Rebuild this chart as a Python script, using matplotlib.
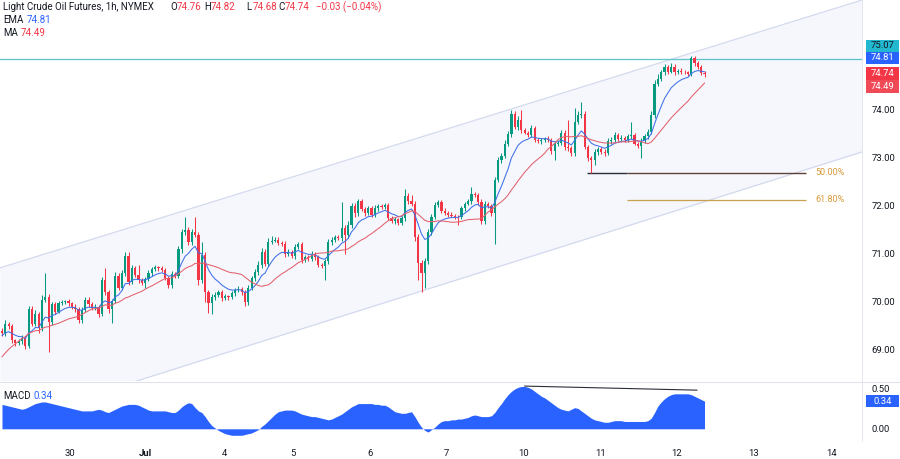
import numpy as np
import pandas as pd
import matplotlib
matplotlib.use("Agg")
import matplotlib.pyplot as plt
from matplotlib.patches import Rectangle

# --- data (1h candles, Light Crude Oil Futures) ---
first_open = 69.40
closes = [
    69.35, 69.55, 69.50, 69.20, 69.15, 69.18, 69.25, 69.08, 69.85, 69.55,
    69.75, 69.45, 70.05, 70.10, 69.58, 69.95, 69.80, 69.98, 70.00, 70.02,
    69.97, 69.90, 69.85, 69.62, 69.83, 70.05, 69.95, 69.88, 69.90, 69.75,
    70.45, 70.20, 69.85, 70.03, 70.55, 70.30, 70.60, 70.95, 70.42, 70.70,
    70.57, 70.45, 70.40, 70.48, 70.60, 70.68, 70.72, 70.70, 70.66, 70.50,
    70.35, 70.58, 70.55, 71.10, 71.45, 71.50, 71.25, 71.45, 71.40, 70.45,
    70.98, 70.20, 69.98, 70.10, 70.15, 70.20, 70.08, 70.12, 70.10, 70.18,
    70.25, 70.28, 70.20, 70.00, 70.30, 70.50, 70.62, 70.78, 71.04, 70.80,
    71.25, 71.28, 71.30, 71.23, 71.20, 71.00, 71.05, 70.95, 71.15, 71.20,
    70.88, 70.93, 70.90, 71.00, 70.93, 70.78, 70.75, 70.85, 71.25, 71.30,
    71.35, 71.33, 71.55, 71.40, 71.60, 72.00, 71.85, 72.10, 71.93, 71.85,
    71.95, 71.82, 71.95, 72.00, 71.98, 72.02, 71.75, 71.68, 71.72, 71.65,
    71.75, 72.20, 72.10, 72.05, 71.35, 70.82, 70.60, 70.85, 71.45, 71.78,
    72.02, 72.08, 71.90, 71.85, 71.82, 71.80, 71.78, 71.76, 71.95, 72.05,
    72.10, 72.25, 72.22, 72.08, 71.68, 72.05, 72.00, 71.85, 72.55, 72.95,
    73.05, 73.30, 73.50, 73.92, 73.65, 73.80, 73.58, 73.53, 73.48, 73.62,
    73.38, 73.35, 73.37, 73.40, 73.38, 73.15, 73.30, 73.32, 73.52, 73.22,
    73.20, 73.10, 73.75, 73.90, 73.92, 73.23, 73.00, 72.95, 73.12, 73.18,
    73.13, 73.10, 73.35, 73.38, 73.48, 73.40, 73.42, 73.38, 73.45, 73.48,
    73.30, 73.25, 73.35, 73.45, 73.55, 73.90, 74.55, 74.65, 74.78, 74.90,
    74.80, 74.90, 74.78, 74.82, 74.80, 74.78, 74.75, 75.08, 74.97, 74.90,
    74.76, 74.74,
]
up_wick = [
    0.05, 0.08, 0.04, 0.05, 0.03, 0.04, 0.06, 0.05, 0.07, 0.06,
    0.08, 0.05, 0.10, 0.50, 0.06, 0.05, 0.04, 0.05, 0.04, 0.03,
    0.04, 0.03, 0.05, 0.04, 0.06, 0.05, 0.06, 0.04, 0.05, 0.04,
    0.06, 0.25, 0.05, 0.04, 0.08, 0.06, 0.07, 0.10, 0.10, 0.06,
    0.05, 0.20, 0.04, 0.05, 0.06, 0.04, 0.05, 0.03, 0.04, 0.05,
    0.04, 0.06, 0.05, 0.06, 0.08, 0.27, 0.06, 0.07, 0.33, 0.05,
    0.27, 0.06, 0.05, 0.06, 0.05, 0.04, 0.05, 0.04, 0.03, 0.05,
    0.04, 0.05, 0.04, 0.05, 0.06, 0.05, 0.06, 0.07, 0.08, 0.07,
    0.08, 0.10, 0.06, 0.05, 0.04, 0.06, 0.05, 0.04, 0.06, 0.05,
    0.05, 0.04, 0.05, 0.06, 0.04, 0.05, 0.04, 0.05, 0.07, 0.05,
    0.04, 0.05, 0.53, 0.06, 0.08, 0.07, 0.06, 0.05, 0.05, 0.04,
    0.05, 0.04, 0.06, 0.05, 0.04, 0.05, 0.04, 0.05, 0.04, 0.03,
    0.05, 0.15, 0.06, 0.12, 0.05, 0.06, 0.05, 0.06, 0.07, 0.06,
    0.06, 0.05, 0.04, 0.05, 0.04, 0.05, 0.04, 0.03, 0.05, 0.04,
    0.05, 0.15, 0.05, 0.04, 0.06, 0.05, 0.04, 0.05, 0.06, 0.07,
    0.06, 0.07, 0.06, 0.08, 0.06, 0.07, 0.20, 0.05, 0.04, 0.06,
    0.05, 0.04, 0.05, 0.04, 0.05, 0.04, 0.06, 0.05, 0.06, 0.07,
    0.58, 0.05, 0.30, 0.08, 0.25, 0.06, 0.05, 0.04, 0.06, 0.05,
    0.04, 0.05, 0.06, 0.05, 0.06, 0.04, 0.05, 0.04, 0.05, 0.27,
    0.05, 0.04, 0.06, 0.05, 0.06, 0.07, 0.08, 0.10, 0.06, 0.05,
    0.04, 0.08, 0.05, 0.04, 0.05, 0.04, 0.03, 0.04, 0.05, 0.04,
    0.04, 0.06,
]
dn_wick = [
    0.06, 0.05, 0.06, 0.05, 0.06, 0.04, 0.05, 0.06, 0.03, 0.05,
    0.05, 0.10, 0.05, 0.06, 0.63, 0.05, 0.06, 0.04, 0.05, 0.04,
    0.05, 0.04, 0.05, 0.06, 0.05, 0.04, 0.05, 0.04, 0.05, 0.06,
    0.05, 0.06, 0.07, 0.29, 0.05, 0.06, 0.05, 0.06, 0.07, 0.05,
    0.04, 0.05, 0.05, 0.10, 0.04, 0.05, 0.04, 0.05, 0.04, 0.05,
    0.06, 0.05, 0.06, 0.05, 0.07, 0.06, 0.07, 0.06, 0.05, 0.10,
    0.06, 0.20, 0.21, 0.23, 0.05, 0.04, 0.05, 0.04, 0.05, 0.04,
    0.05, 0.04, 0.05, 0.08, 0.06, 0.05, 0.06, 0.05, 0.07, 0.06,
    0.06, 0.05, 0.04, 0.05, 0.04, 0.06, 0.05, 0.04, 0.05, 0.04,
    0.06, 0.05, 0.04, 0.05, 0.06, 0.05, 0.04, 0.29, 0.05, 0.06,
    0.05, 0.04, 0.06, 0.40, 0.07, 0.06, 0.07, 0.05, 0.04, 0.05,
    0.04, 0.05, 0.04, 0.05, 0.04, 0.05, 0.05, 0.04, 0.05, 0.04,
    0.05, 0.06, 0.05, 0.06, 0.07, 0.37, 0.40, 0.30, 0.06, 0.05,
    0.05, 0.04, 0.05, 0.04, 0.05, 0.04, 0.05, 0.16, 0.04, 0.05,
    0.04, 0.05, 0.04, 0.05, 0.06, 0.05, 0.04, 0.05, 0.65, 0.06,
    0.05, 0.06, 0.05, 0.06, 0.05, 0.06, 0.05, 0.04, 0.05, 0.04,
    0.05, 0.04, 0.05, 0.04, 0.05, 0.07, 0.20, 0.05, 0.06, 0.05,
    0.06, 0.05, 0.06, 0.05, 0.06, 0.05, 0.06, 0.26, 0.10, 0.05,
    0.04, 0.05, 0.04, 0.05, 0.04, 0.05, 0.04, 0.05, 0.04, 0.05,
    0.04, 0.05, 0.25, 0.04, 0.05, 0.06, 0.07, 0.06, 0.05, 0.06,
    0.05, 0.04, 0.05, 0.04, 0.05, 0.04, 0.05, 0.04, 0.05, 0.04,
    0.04, 0.06,
]
# MACD line, one value per candle
macd = [
    0.30, 0.29, 0.28, 0.27, 0.26, 0.25, 0.24, 0.25, 0.27, 0.29,
    0.31, 0.32, 0.33, 0.33, 0.32, 0.31, 0.30, 0.29, 0.28, 0.27,
    0.26, 0.25, 0.24, 0.23, 0.22, 0.22, 0.22, 0.22, 0.23, 0.24,
    0.23, 0.21, 0.20, 0.22, 0.24, 0.26, 0.28, 0.29, 0.30, 0.30,
    0.30, 0.29, 0.27, 0.25, 0.23, 0.22, 0.22, 0.22, 0.22, 0.22,
    0.21, 0.20, 0.20, 0.23, 0.27, 0.30, 0.32, 0.31, 0.26, 0.22,
    0.20, 0.15, 0.09, 0.04, 0.01, -0.02, -0.04, -0.06, -0.07, -0.08,
    -0.08, -0.08, -0.08, -0.07, -0.06, -0.05, -0.03, -0.01, 0.03, 0.06,
    0.10, 0.14, 0.18, 0.21, 0.22, 0.23, 0.23, 0.23, 0.22, 0.20,
    0.18, 0.17, 0.16, 0.15, 0.15, 0.14, 0.13, 0.12, 0.11, 0.12,
    0.14, 0.16, 0.18, 0.21, 0.24, 0.27, 0.29, 0.31, 0.31, 0.31,
    0.31, 0.31, 0.30, 0.30, 0.29, 0.29, 0.27, 0.24, 0.21, 0.20,
    0.19, 0.19, 0.20, 0.21, 0.15, 0.08, 0.02, -0.02, -0.04, -0.01,
    0.02, 0.06, 0.09, 0.10, 0.10, 0.11, 0.11, 0.12, 0.12, 0.13,
    0.14, 0.16, 0.17, 0.16, 0.15, 0.15, 0.15, 0.16, 0.20, 0.26,
    0.31, 0.37, 0.42, 0.46, 0.49, 0.51, 0.52, 0.52, 0.51, 0.49,
    0.46, 0.43, 0.40, 0.38, 0.35, 0.32, 0.29, 0.26, 0.24, 0.23,
    0.22, 0.24, 0.26, 0.25, 0.22, 0.19, 0.16, 0.13, 0.11, 0.10,
    0.09, 0.08, 0.08, 0.09, 0.10, 0.10, 0.10, 0.09, 0.09, 0.09,
    0.09, 0.09, 0.09, 0.09, 0.10, 0.13, 0.20, 0.28, 0.33, 0.37,
    0.40, 0.42, 0.43, 0.43, 0.43, 0.43, 0.43, 0.42, 0.40, 0.38,
    0.36, 0.34,
]
# candles before the visible window (needed to warm up EMA / MA)
warmup_closes = [
    67.70, 67.75, 67.80, 67.78, 67.85, 67.90, 67.88, 67.95, 68.00, 67.95,
    68.05, 68.10, 68.15, 68.30, 68.60, 68.90, 69.20, 69.35, 69.30, 69.40,
    69.45, 69.35, 69.40, 69.50, 69.45, 69.40,
]

# values printed in the chart legend
last_ohlc = {"O": 74.76, "H": 74.82, "L": 74.68, "C": 74.74}
change = "\u22120.03 (\u22120.04%)"
ema_last = 74.81
ma_last = 74.49
macd_last = 0.34

day_ticks = [20.4, 42.9, 66.7, 87.4, 110.5, 133.6, 156.5, 179.9, 202.7, 225.8, 249.3]
day_labels = ["30", "Jul", "4", "5", "6", "7", "10", "11", "12", "13", "14"]
price_ticks = [69.0, 70.0, 71.0, 72.0, 73.0, 74.0]
macd_ticks = [0.0, 0.5]

resistance = 75.07
fib_levels = [72.69, 72.125]
fib_labels = ["50.00%", "61.80%"]
channel_upper = [(-0.6, 70.71), (258.3, 76.29)]
channel_lower = [(41.4, 68.375), (258.3, 73.125)]
macd_div = [(157.0, 0.525), (208.7, 0.475)]

GREEN = "#089981"
RED = "#f23645"
BLUE = "#2962ff"
TXT = "#131722"
plt.rcParams["font.family"] = ["Roboto", "DejaVu Sans"]

# --- derived series ---
n = len(closes)
idx = np.arange(n)
c = np.array(closes)
o = np.r_[first_open, c[:-1]]
hi = np.maximum(o, c) + np.array(up_wick)
lo = np.minimum(o, c) - np.array(dn_wick)
cols = np.where(c >= o, GREEN, RED)

full = pd.Series(warmup_closes + closes)
ema = full.ewm(span=9, adjust=False).mean().values[-n:]
ma = full.rolling(20).mean().values[-n:]

W, H = 900, 459
fig = plt.figure(figsize=(9, 4.59), dpi=100)
ax = fig.add_axes([0, 1 - 381 / H, 862 / W, 381 / H])
axm = fig.add_axes([0, 1 - 441 / H, 862 / W, 60 / H])
xlim = (-0.6, 258.3)

# channel
def line_at(pts, x):
    (x0, y0), (x1, y1) = pts
    return y0 + (y1 - y0) * (np.asarray(x) - x0) / (x1 - x0)

xs = np.array(xlim)
ax.fill_between(xs, line_at(channel_lower, xs), line_at(channel_upper, xs),
                color="#f5f7fd", lw=0, zorder=0)
ax.plot(xs, line_at(channel_upper, xs), color="#d3daee", lw=0.9, zorder=1)
ax.plot(xs, line_at(channel_lower, xs), color="#d3daee", lw=0.9, zorder=1)

# resistance
ax.axhline(resistance, color="#5cc6cc", lw=0.9, zorder=2)

# fib levels
ax.hlines(fib_levels[0], 175.7, 187.7, color="#2a2e39", lw=1.0, zorder=2)
ax.hlines(fib_levels[0], 187.7, 241.4, color="#5d4037", lw=1.0, zorder=2)
ax.hlines(fib_levels[1], 187.7, 241.4, color="#c9a04d", lw=0.9, zorder=2)
for lv, lb in zip(fib_levels, fib_labels):
    ax.text(244.2, lv, lb, color="#d99a3a", fontsize=6.5, va="center", ha="left")

# candles
body = np.where(np.abs(c - o) < 0.012, 0.012, c - o)
ax.vlines(idx, lo, hi, color=cols, lw=0.75, zorder=3)
ax.bar(idx, body, bottom=o, width=0.66, color=cols, lw=0, zorder=4)
ax.plot(idx, ema, color="#3f6fe8", lw=0.75, zorder=5)
ax.plot(idx, ma, color="#e4606b", lw=0.75, zorder=5)

ax.set_xlim(*xlim)
ax.set_ylim(68.354, 76.29)
ax.set_xticks([])
ax.yaxis.tick_right()
ax.set_yticks(price_ticks)
ax.set_yticklabels([f"{v:.2f}" for v in price_ticks])
ax.tick_params(axis="y", length=0, pad=7, labelsize=6.8, labelcolor=TXT)
for s in ax.spines.values():
    s.set_visible(False)

# MACD pane
axm.fill_between(idx, 0, macd, color=BLUE, lw=0)
axm.plot([p[0] for p in macd_div], [p[1] for p in macd_div], color="#2a2e39", lw=0.8)
axm.set_xlim(*xlim)
axm.set_ylim(-0.15, 0.5875)
axm.yaxis.tick_right()
axm.set_yticks(macd_ticks)
axm.set_yticklabels([f"{v:.2f}" for v in macd_ticks])
axm.tick_params(axis="y", length=0, pad=7, labelsize=6.8, labelcolor=TXT)
axm.set_xticks(day_ticks)
axm.set_xticklabels(day_labels)
axm.tick_params(axis="x", length=0, pad=6, labelsize=6.8, labelcolor=TXT)
for t in axm.get_xticklabels():
    if t.get_text() == "Jul":
        t.set_fontweight("bold")
for s in axm.spines.values():
    s.set_visible(False)

# pane borders
fig.add_artist(plt.Line2D([0, 1], [1 - 381.5 / H] * 2, color="#e0e3eb", lw=0.8))
fig.add_artist(plt.Line2D([862 / W] * 2, [1 - 441 / H, 1], color="#e0e3eb", lw=0.6))

# price boxes on the right scale
def box(y_top, y_bot, txt, face, tc="white"):
    fig.add_artist(Rectangle((866 / W, 1 - y_bot / H), 33 / W, (y_bot - y_top) / H,
                             transform=fig.transFigure, color=face, lw=0))
    fig.text(882.5 / W, 1 - (y_top + y_bot) / 2 / H, txt, color=tc, fontsize=6.8,
             ha="center", va="center")

box(40, 52, f"{resistance:.2f}", "#22b8cf", TXT)
box(52, 64, f"{ema_last:.2f}", BLUE)
box(67, 80, f"{last_ohlc['C']:.2f}", RED)
box(80, 93, f"{ma_last:.2f}", "#f04a57")
box(395, 407, f"{macd_last:.2f}", BLUE)

# legend texts
def txt(x, y, s, col=TXT):
    fig.text(x / W, 1 - y / H, s, color=col, fontsize=7.0, va="center", ha="left")

txt(3, 7, "Light Crude Oil Futures, 1h, NYMEX")
for k, x in zip(["O", "H", "L", "C"], [170, 204, 246, 278]):
    txt(x, 7, k)
    txt(x + 7, 7, f"{last_ohlc[k]:.2f}", RED)
txt(316, 7, change, RED)
txt(3, 20, "EMA")
txt(27, 20, f"{ema_last:.2f}", BLUE)
txt(3, 33, "MA")
txt(21, 33, f"{ma_last:.2f}", RED)
txt(3, 396, "MACD")
txt(34, 396, f"{macd_last:.2f}", BLUE)

fig.savefig("out.png", dpi=100, facecolor="white")
